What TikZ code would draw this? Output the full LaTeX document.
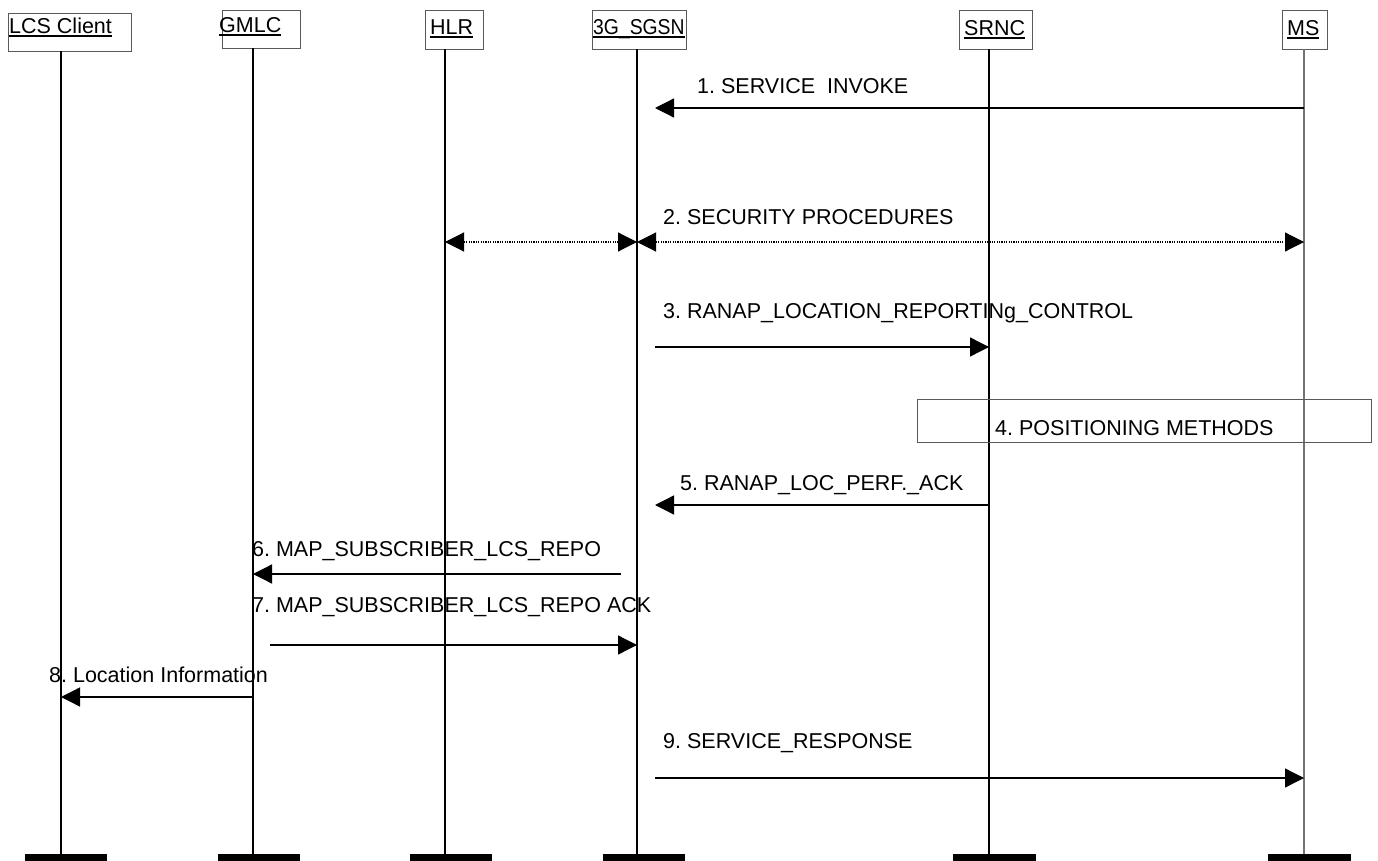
\documentclass[tikz,border=0pt]{standalone}
\usepackage{fontspec}
\setmainfont{Liberation Sans}
\usetikzlibrary{arrows.meta}
\newcommand\myul[1]{\setbox0\hbox{#1}\rlap{\rule[-3.5pt]{\wd0}{2pt}}\box0}
\begin{document}
\frenchspacing
\begin{tikzpicture}[x=1pt,y=-1pt,
  hbox/.style={draw=black!65, line width=1pt, anchor=north west, inner sep=0pt},
  lbl/.style={anchor=base west, inner sep=0pt, font=\fontsize{21.5}{24}\selectfont\frenchspacing},
  life/.style={line width=1.3pt},
  msg/.style={line width=1.3pt, -{Triangle[length=19pt,width=19pt]}},
  dmsg/.style={line width=1.1pt, dash pattern=on 1.2pt off 1.2pt,
    {Triangle[length=19pt,width=19pt]}-{Triangle[length=19pt,width=19pt]}},
  barfill/.style={fill=black}]
\useasboundingbox (0,0) rectangle (1378,861);

% header boxes
\node[hbox, minimum width=123pt, minimum height=38pt] (bLCS) at (8,13) {};
\node[hbox, minimum width=78pt, minimum height=38pt] (bGMLC) at (222,10) {};
\node[hbox, minimum width=58pt, minimum height=39pt] (bHLR) at (425,10) {};
\node[hbox, minimum width=94pt, minimum height=39pt] (bSGSN) at (592,10) {};
\node[hbox, minimum width=73pt, minimum height=39pt] (bSRNC) at (959,10) {};
\node[hbox, minimum width=45pt, minimum height=39pt] (bMS) at (1282,10) {};

% header texts
\node[lbl] (tLCS) at (9,34) {\myul{LCS Client}};
\node[lbl] (tGMLC) at (219,33) {\myul{GMLC}};
\node[lbl] (tHLR) at (430,35) {\myul{HLR}};
\node[lbl] (tSGSN) at (593,35) {\scalebox{0.9}[1]{\myul{3G\_SGSN}}};
\node[lbl] (tSRNC) at (964,36) {\myul{SRNC}};
\node[lbl] (tMS) at (1287,36) {\myul{MS}};

% lifeline coordinates
\coordinate (lLCS) at (61,51);   \coordinate (eLCS) at (61,855);
\coordinate (lGMLC) at (253,48); \coordinate (eGMLC) at (253,855);
\coordinate (lHLR) at (445,49);  \coordinate (eHLR) at (445,855);
\coordinate (lSGSN) at (637,49); \coordinate (eSGSN) at (637,855);
\coordinate (lSRNC) at (989,49); \coordinate (eSRNC) at (989,855);
\coordinate (lMS) at (1304,49);  \coordinate (eMS) at (1304,855);

\draw[life] (lLCS) -- (eLCS);
\draw[life] (lGMLC) -- (eGMLC);
\draw[life] (lHLR) -- (eHLR);
\draw[life] (lSGSN) -- (eSGSN);
\draw[life] (lSRNC) -- (eSRNC);
\draw[life, draw=black!55] (lMS) -- (eMS);

% bottom bars
\fill[barfill] (25,854) rectangle (107,861);
\fill[barfill] (218,854) rectangle (300,861);
\fill[barfill] (410,854) rectangle (492,861);
\fill[barfill] (603,854) rectangle (685,861);
\fill[barfill] (953,854) rectangle (1036,861);
\fill[barfill] (1268,854) rectangle (1351,861);

% 1
\node[lbl] (m1) at (697,94) {1. SERVICE\ \ INVOKE};
\coordinate (m1e) at (655,108);
\draw[msg] (lMS |- m1e) -- (m1e);

% 2
\node[lbl] (m2) at (663,225) {2. SECURITY PROCEDURES};
\coordinate (m2y) at (0,242);
\draw[dmsg] (lHLR |- m2y) -- (lSGSN |- m2y);
\draw[dmsg] (lSGSN |- m2y) -- (lMS |- m2y);

% 3
\node[lbl] (m3) at (663,318) {3. RANAP\_LOCATION\_REPORTINg\_CONTROL};
\coordinate (m3s) at (655,347);
\draw[msg] (m3s) -- (lSRNC |- m3s);

% 4
\node[hbox, minimum width=454pt, minimum height=43pt] (bPOS) at (917,399) {};
\node[lbl] (m4) at (995,435) {4. POSITIONING METHODS};

% 5
\node[lbl] (m5) at (680,490) {5. RANAP\_LOC\_PERF.\_ACK};
\coordinate (m5e) at (655,505);
\draw[msg] (lSRNC |- m5e) -- (m5e);

% 6
\node[lbl] (m6) at (252,556) {6. MAP\_SUBSCRIBER\_LCS\_REPO};
\coordinate (m6s) at (621,574);
\draw[msg] (m6s) -- (lGMLC |- m6s);

% 7
\node[lbl] (m7) at (252,612) {7. MAP\_SUBSCRIBER\_LCS\_REPO ACK};
\coordinate (m7s) at (270,645);
\draw[msg] (m7s) -- (lSGSN |- m7s);

% 8
\node[lbl] (m8) at (49,682) {8. Location Information};
\coordinate (m8y) at (0,697);
\draw[msg] (lGMLC |- m8y) -- (lLCS |- m8y);

% 9
\node[lbl] (m9) at (663,748) {9. SERVICE\_RESPONSE};
\coordinate (m9s) at (655,778);
\draw[msg] (m9s) -- (lMS |- m9s);
\end{tikzpicture}
\end{document}
